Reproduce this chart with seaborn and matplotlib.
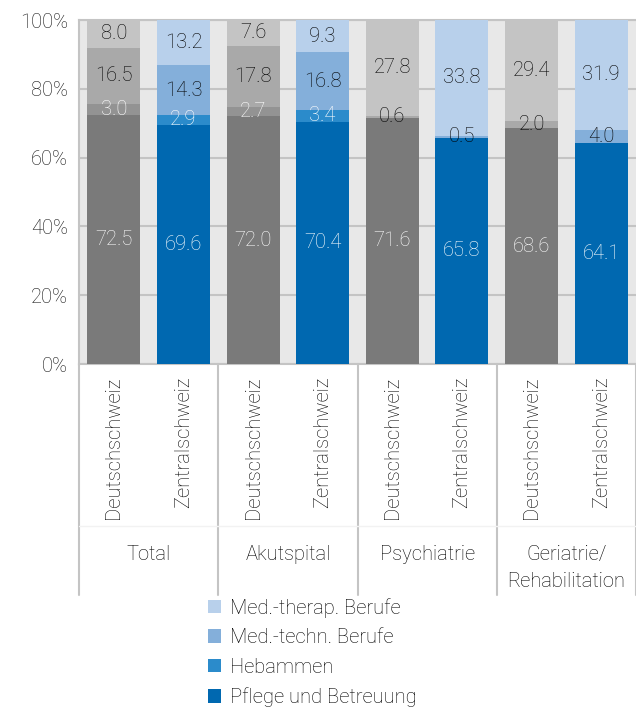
import numpy as np
import pandas as pd
import matplotlib
matplotlib.use("Agg")
import matplotlib.pyplot as plt
import matplotlib.transforms as mtransforms
from matplotlib.patches import Patch
import seaborn as sns

groups = ["Total", "Akutspital", "Psychiatrie", "Geriatrie/\nRehabilitation"]
regions = ["Deutschschweiz", "Zentralschweiz"]
layers = ["Pflege und Betreuung", "Hebammen", "Med.-techn. Berufe", "Med.-therap. Berufe"]

# order: Total D, Total Z, Akut D, Akut Z, Psych D, Psych Z, Ger D, Ger Z
pflege = [72.5, 69.6, 72.0, 70.4, 71.6, 65.8, 68.6, 64.1]
hebammen = [3.0, 2.9, 2.7, 3.4, 0.0, 0.0, 0.0, 0.0]
med_techn = [16.5, 14.3, 17.8, 16.8, 0.6, 0.5, 2.0, 4.0]
med_therap = [8.0, 13.2, 7.6, 9.3, 27.8, 33.8, 29.4, 31.9]

grey_colors = ["#7a7a7a", "#939393", "#a9a9a9", "#c4c4c4"]
blue_colors = ["#0068b0", "#2b8bcb", "#84afda", "#b8d0eb"]
label_colors = ["white", "white", "#000000", "#000000"]
FS = 14.5
TXT = "#000000"

sns.set_theme(style="white")
plt.rcParams["font.family"] = ["Roboto", "DejaVu Sans"]
plt.rcParams["font.weight"] = "light"

values = np.array([pflege, hebammen, med_techn, med_therap])
bar_ids = [f"{g}|{r}" for g in groups for r in regions]

fig = plt.figure(figsize=(6.36, 7.09), dpi=100)
ax = fig.add_axes([79 / 636, (709 - 364) / 709, 557 / 636, 344 / 709])
ax.set_facecolor("#e8e8e8")

bottoms = np.zeros(len(bar_ids))
for li, layer in enumerate(layers):
    for ri, region in enumerate(regions):
        idx = list(range(ri, len(bar_ids), 2))
        df = pd.DataFrame({"bar": [bar_ids[i] for i in idx],
                           "value": values[li, idx]})
        sns.barplot(data=df, x="bar", y="value", order=bar_ids,
                    color=(grey_colors if ri == 0 else blue_colors)[li],
                    saturation=1, width=0.76, errorbar=None,
                    bottom=bottoms[idx], linewidth=0, ax=ax, zorder=3)
    # value labels
    for i in range(len(bar_ids)):
        v = values[li, i]
        if v > 0:
            ax.text(i, bottoms[i] + v / 2, f"{v:.1f}", ha="center", va="center",
                    fontsize=FS, color=label_colors[li], zorder=5)
    bottoms = bottoms + values[li]

ax.set_ylim(0, 100)
ax.set_xlim(-0.5, len(bar_ids) - 0.5)
ax.set_yticks(np.arange(0, 101, 20))
ax.set_yticklabels([f"{t}%" for t in range(0, 101, 20)], fontsize=FS, color="#111111")
ax.yaxis.grid(True, color="#c4c4c4", linewidth=1.5, zorder=0)
ax.set_axisbelow(True)
ax.set_xticks(range(len(bar_ids)))
ax.set_xticklabels([r for g in groups for r in regions], rotation=90,
                   fontsize=FS, color=TXT)
ax.tick_params(axis="x", length=0, pad=9)
ax.tick_params(axis="y", length=0, pad=8)
ax.set_xlabel("")
ax.set_ylabel("")
for side in ["top", "left", "bottom"]:
    ax.spines[side].set_color("#c4c4c4")
    ax.spines[side].set_linewidth(1.5)
ax.spines["right"].set_visible(False)

# group labels and separators below the axis
trans = mtransforms.blended_transform_factory(ax.transData, ax.transAxes)
for gi, g in enumerate(groups):
    ax.text(2 * gi + 0.5, -0.527, g, transform=trans, ha="center", va="top",
            fontsize=FS, color=TXT, linespacing=1.5)
for xs in np.arange(-0.5, len(bar_ids), 2):
    ax.plot([xs, xs], [0, -0.672], transform=trans, color="#c4c4c4",
            linewidth=1.5, clip_on=False)
ax.plot([-0.5, len(bar_ids) - 0.5], [-0.47, -0.47], transform=trans,
        color="#f2f2f2", linewidth=1, clip_on=False)

handles = [Patch(facecolor=c, edgecolor="none") for c in blue_colors]
leg = fig.legend(handles[::-1], layers[::-1], loc="upper left",
                 bbox_to_anchor=(200 / 636, 1 - 590 / 709), frameon=False,
                 fontsize=FS, handlelength=0.65, handleheight=0.65,
                 handletextpad=0.45, labelspacing=0.52, borderaxespad=0)
for t in leg.get_texts():
    t.set_color(TXT)

fig.savefig("out.png", dpi=100)
